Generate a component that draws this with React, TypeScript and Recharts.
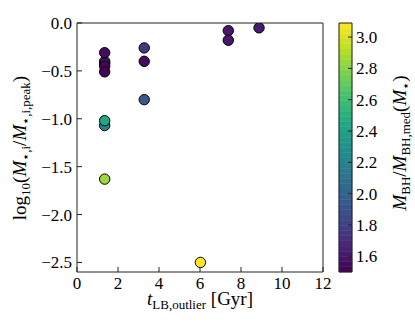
import React from 'react';
import { ScatterChart, Scatter, XAxis, YAxis, ComposedChart, ReferenceArea } from 'recharts';

const tLB = [1.35, 1.35, 1.35, 1.35, 1.35, 1.35, 1.35, 1.35, 3.28, 3.28, 3.28, 6.02, 7.38, 7.38, 8.88];
const logM = [-0.4, -0.31, -0.42, -0.45, -0.51, -1.07, -1.02, -1.63, -0.26, -0.4, -0.8, -2.5, -0.08, -0.18, -0.05];
const ratio = [2.15, 1.55, 1.6, 1.52, 1.5, 2.2, 2.45, 2.85, 1.75, 1.55, 1.93, 3.09, 1.6, 1.6, 1.62];

const xTicks = [0, 2, 4, 6, 8, 10, 12];
const yTicks = [-2.5, -2.0, -1.5, -1.0, -0.5, 0.0];
const cbTicks = [1.6, 1.8, 2.0, 2.2, 2.4, 2.6, 2.8, 3.0];
const cMin = 1.5;
const cMax = 3.09;

const VIRIDIS = ['#440154', '#482475', '#414487', '#355f8d', '#2a788e', '#21918c', '#22a884', '#44bf70', '#7ad151', '#bddf26', '#fde725'];
function hex(h: string) {
  return [parseInt(h.slice(1, 3), 16), parseInt(h.slice(3, 5), 16), parseInt(h.slice(5, 7), 16)];
}
function viridis(t: number) {
  const tt = Math.max(0, Math.min(1, t)) * (VIRIDIS.length - 1);
  const i = Math.min(VIRIDIS.length - 2, Math.floor(tt));
  const f = tt - i;
  const a = hex(VIRIDIS[i]);
  const b = hex(VIRIDIS[i + 1]);
  const c = a.map((v, k) => Math.round(v + (b[k] - v) * f));
  return `rgb(${c[0]},${c[1]},${c[2]})`;
}
const colorOf = (v: number) => viridis((v - cMin) / (cMax - cMin));

const points = tLB.map((x, i) => ({ x, y: logM[i], c: ratio[i], fill: colorOf(ratio[i]) }));

const N_BANDS = 48;
const bands = Array.from({ length: N_BANDS }, (_, i) => {
  const y1 = cMin + ((cMax - cMin) * i) / N_BANDS;
  const y2 = cMin + ((cMax - cMin) * (i + 1)) / N_BANDS;
  return { y1, y2, fill: colorOf((y1 + y2) / 2) };
});

const FONT = 'Liberation Serif, Times New Roman, DejaVu Serif, serif';
const fmt = (v: number) => v.toFixed(1).replace('-', '\u2212');
const AX = '#222';
const TICK_FS = 17;
const LAB_FS = 19;
const SUB_FS = 13;

const AxisTick = (p: any) => {
  const side = p.side as string;
  const v = p.payload ? p.payload.value : 0;
  const label = side === 'bottom' ? String(v) : side === 'left' ? fmt(v) : v.toFixed(1);
  const anchor = side === 'bottom' ? 'middle' : side === 'left' ? 'end' : 'start';
  const dy = side === 'bottom' ? '0.71em' : '0.355em';
  return (
    <text x={p.x} y={p.y} dy={dy} textAnchor={anchor}
      style={{ fontFamily: FONT, fontSize: TICK_FS, fill: '#000' }}>
      {label}
    </text>
  );
};

const Dot = (p: any) => (
  <circle cx={p.cx} cy={p.cy} r={5.2} fill={p.payload.fill} stroke="#000" strokeWidth={1} />
);

const Sub = ({ children }: { children: React.ReactNode }) => (
  <>
    <tspan fontSize={SUB_FS} dy={4}>{children}</tspan>
    <tspan dy={-4}>{'\u200b'}</tspan>
  </>
);

export default function App() {
  return (
    <div style={{ position: 'absolute', left: 0, top: 0, width: 415, height: 332, background: '#fff', fontFamily: FONT }}>
      <div style={{ position: 'absolute', left: 0, top: 0 }}>
        <ScatterChart width={415} height={332} margin={{ top: 13, right: 82, bottom: 30, left: 37 }}>
          <XAxis xAxisId="b" type="number" dataKey="x" domain={[0, 12]} ticks={xTicks} allowDataOverflow
            height={30} tickSize={-5} tickMargin={10}
            axisLine={{ stroke: AX }} tickLine={{ stroke: AX }} tick={<AxisTick side="bottom" />} />
          <XAxis xAxisId="t" orientation="top" type="number" dataKey="x" domain={[0, 12]} ticks={xTicks} allowDataOverflow
            height={10} tickSize={-5} axisLine={{ stroke: AX }} tickLine={{ stroke: AX }} tick={false} />
          <YAxis yAxisId="l" type="number" dataKey="y" domain={[-2.6, 0]} ticks={yTicks} allowDataOverflow
            width={40} tickSize={-5} tickMargin={10}
            axisLine={{ stroke: AX }} tickLine={{ stroke: AX }} tick={<AxisTick side="left" />} />
          <YAxis yAxisId="r" orientation="right" type="number" dataKey="y" domain={[-2.6, 0]} ticks={yTicks} allowDataOverflow
            width={10} tickSize={-5} axisLine={{ stroke: AX }} tickLine={{ stroke: AX }} tick={false} />
          <Scatter xAxisId="b" yAxisId="l" data={points} isAnimationActive={false} shape={Dot} />
        </ScatterChart>
      </div>
      <div style={{ position: 'absolute', left: 0, top: 0 }}>
        <ComposedChart width={415} height={332} margin={{ top: 23, right: 33, bottom: 60, left: 339 }} data={[{ x: 0 }, { x: 1 }]}>
          <XAxis xAxisId="cx" type="number" dataKey="x" domain={[0, 1]} hide />
          <YAxis yAxisId="cy" orientation="right" type="number" domain={[cMin, cMax]} ticks={cbTicks} allowDataOverflow
            width={30} tickSize={-4} tickMargin={8}
            axisLine={false} tickLine={{ stroke: AX }} tick={<AxisTick side="right" />} />
          {bands.map((b, i) => (
            <ReferenceArea key={i} xAxisId="cx" yAxisId="cy" x1={0} x2={1} y1={b.y1} y2={b.y2}
              fill={b.fill} fillOpacity={1} stroke={b.fill} strokeWidth={0.5} ifOverflow="visible" />
          ))}
          <ReferenceArea xAxisId="cx" yAxisId="cy" x1={0} x2={1} y1={cMin} y2={cMax}
            fill="none" stroke={AX} strokeWidth={1} ifOverflow="visible" />
        </ComposedChart>
      </div>
      <svg width={415} height={332} style={{ position: 'absolute', left: 0, top: 0, pointerEvents: 'none', fontFamily: FONT }}
        fill="#000">
        <text x={200} y={305} textAnchor="middle" fontSize={LAB_FS}>
          <tspan fontStyle="italic">t</tspan>
          <Sub>LB,outlier</Sub>
          <tspan> [Gyr]</tspan>
        </text>
        <text transform="translate(26,148) rotate(-90)" textAnchor="middle" fontSize={LAB_FS}>
          <tspan>log</tspan>
          <Sub>10</Sub>
          <tspan>(</tspan>
          <tspan fontStyle="italic">M</tspan>
          <Sub>⋆,i</Sub>
          <tspan>/</tspan>
          <tspan fontStyle="italic">M</tspan>
          <Sub>⋆,i,peak</Sub>
          <tspan>)</tspan>
        </text>
        <text transform="translate(406,143) rotate(-90)" textAnchor="middle" fontSize={LAB_FS}>
          <tspan fontStyle="italic">M</tspan>
          <Sub>BH</Sub>
          <tspan>/</tspan>
          <tspan fontStyle="italic">M</tspan>
          <Sub>BH,med</Sub>
          <tspan>(</tspan>
          <tspan fontStyle="italic">M</tspan>
          <Sub>⋆</Sub>
          <tspan>)</tspan>
        </text>
      </svg>
    </div>
  );
}
